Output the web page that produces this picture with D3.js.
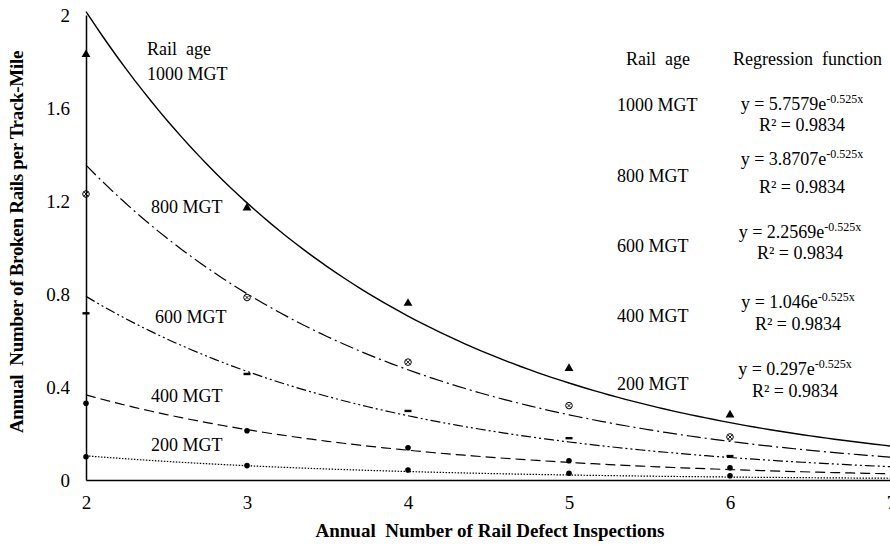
<!DOCTYPE html>
<html>
<head>
<meta charset="utf-8">
<script src="https://cdn.jsdelivr.net/npm/d3@7"></script>
<style>
  body { margin: 0; background: #fff; }
  text { font-family: "Liberation Serif", "Times New Roman", serif; }
</style>
</head>
<body>
<div id="chart"></div>
<script>
// rail age groups, fitted coefficients and observed points
var ages = ["1000 MGT", "800 MGT", "600 MGT", "400 MGT", "200 MGT"];
var coefs = [5.7579, 3.8707, 2.2569, 1.046, 0.297];
var rate = -0.525;
var r2 = [0.9834, 0.9834, 0.9834, 0.9834, 0.9834];
var inspections = [2, 3, 4, 5, 6];
var obs1000 = [1.83, 1.17, 0.76, 0.48, 0.28];
var obs800 = [1.23, 0.785, 0.507, 0.32, 0.185];
var obs600 = [0.717, 0.456, 0.297, 0.18, 0.103];
var obs400 = [0.33, 0.212, 0.139, 0.083, 0.053];
var obs200 = [0.1, 0.062, 0.043, 0.029, 0.018];
var observed = [obs1000, obs800, obs600, obs400, obs200];
var xTicks = [2, 3, 4, 5, 6, 7];
var yTicks = [0, 0.4, 0.8, 1.2, 1.6, 2];

var width = 890, height = 545;
var svg = d3.select("#chart").append("svg")
  .attr("width", width)
  .attr("height", height);

var x = d3.scaleLinear().domain([2, 7]).range([86, 891]);
var y = d3.scaleLinear().domain([0, 2]).range([480, 15]);

// dash styles per series
var dashes = ["none", "14,4,2,4", "10,3,2,3,2,3", "10,5", "1.5,1.5"];

// trend curves
var curveXs = d3.range(2, 7.001, 0.05);
var line = d3.line().x(d => x(d[0])).y(d => y(d[1]));
ages.forEach(function (a, i) {
  var pts = curveXs.map(v => [v, coefs[i] * Math.exp(rate * v)]);
  svg.append("path")
    .attr("d", line(pts))
    .attr("fill", "none")
    .attr("stroke", "#000")
    .attr("stroke-width", i == 0 ? 1.4 : 1.2)
    .attr("stroke-dasharray", dashes[i]);
});

// markers
observed.forEach(function (vals, i) {
  var g = svg.append("g");
  vals.forEach(function (v, j) {
    var cx = x(inspections[j]), cy = y(v);
    if (i == 0) {
      g.append("path").attr("d", d3.symbol(d3.symbolTriangle, 34)())
        .attr("transform", "translate(" + cx + "," + cy + ")").attr("fill", "#000");
    } else if (i == 1) {
      g.append("circle").attr("cx", cx).attr("cy", cy).attr("r", 3.3)
        .attr("fill", "#fff").attr("stroke", "#000").attr("stroke-width", 1);
      g.append("path").attr("d", "M" + (cx - 2) + "," + (cy - 2) + "L" + (cx + 2) + "," + (cy + 2) +
        "M" + (cx - 2) + "," + (cy + 2) + "L" + (cx + 2) + "," + (cy - 2))
        .attr("stroke", "#000").attr("stroke-width", 0.9);
    } else if (i == 2) {
      g.append("rect").attr("x", cx - 3.5).attr("y", cy - 1.2).attr("width", 7).attr("height", 2.4).attr("fill", "#000");
    } else {
      g.append("circle").attr("cx", cx).attr("cy", cy).attr("r", 2.8).attr("fill", "#000");
    }
  });
});

// axes
var xAxis = svg.append("g")
  .attr("transform", "translate(0," + y(0) + ")")
  .call(d3.axisBottom(x).tickValues(xTicks).tickSize(0).tickPadding(16).tickFormat(d3.format("d")));
var yAxis = svg.append("g")
  .attr("transform", "translate(" + x(2) + ",0)")
  .call(d3.axisLeft(y).tickValues(yTicks).tickSize(0).tickPadding(16).tickFormat(d => d));
[xAxis, yAxis].forEach(function (ax) {
  ax.select(".domain").attr("stroke", "#000").attr("stroke-width", 1.5);
  ax.selectAll("text").attr("font-size", 19).attr("fill", "#000")
    .attr("font-family", "Liberation Serif");
});

svg.append("text")
  .attr("x", 490).attr("y", 537)
  .attr("text-anchor", "middle")
  .attr("font-size", 19).attr("font-weight", "bold")
  .attr("xml:space", "preserve")
  .text("Annual  Number of Rail Defect Inspections");

svg.append("text")
  .attr("transform", "translate(23,242) rotate(-90)")
  .attr("text-anchor", "middle")
  .attr("font-size", 19).attr("font-weight", "bold")
  .attr("letter-spacing", -0.3)
  .attr("xml:space", "preserve")
  .text("Annual  Number of Broken Rails per Track-Mile");

// labels next to the curves
var curveLabelPos = [[147, 80], [151, 213], [155, 323], [151, 402], [151, 451]];
svg.append("text").attr("x", 147).attr("y", 55).attr("font-size", 18)
  .attr("xml:space", "preserve").text("Rail  age");
ages.forEach(function (a, i) {
  svg.append("text").attr("x", curveLabelPos[i][0]).attr("y", curveLabelPos[i][1])
    .attr("font-size", 18).text(a);
});

// regression table
svg.append("text").attr("x", 626).attr("y", 65).attr("font-size", 18)
  .attr("xml:space", "preserve").text("Rail  age");
svg.append("text").attr("x", 733).attr("y", 65).attr("font-size", 18)
  .attr("xml:space", "preserve").text("Regression  function");

var rowLabelY = [111, 182, 252, 322, 390];
var eqY = [110, 165, 238, 308, 375];
var r2Y = [131, 193, 259, 330, 397];
var eqX = [802, 802, 800, 798, 795];
ages.forEach(function (a, i) {
  svg.append("text").attr("x", 617).attr("y", rowLabelY[i]).attr("font-size", 18).text(a);
  var t = svg.append("text").attr("x", eqX[i]).attr("y", eqY[i])
    .attr("text-anchor", "middle").attr("font-size", 18);
  t.append("tspan").text("y = " + coefs[i] + "e");
  t.append("tspan").attr("font-size", 12).attr("dy", -7).text(rate.toFixed(3) + "x");
  svg.append("text").attr("x", eqX[i]).attr("y", r2Y[i])
    .attr("text-anchor", "middle").attr("font-size", 18)
    .text("R\u00B2 = " + r2[i]);
});
</script>
</body>
</html>
